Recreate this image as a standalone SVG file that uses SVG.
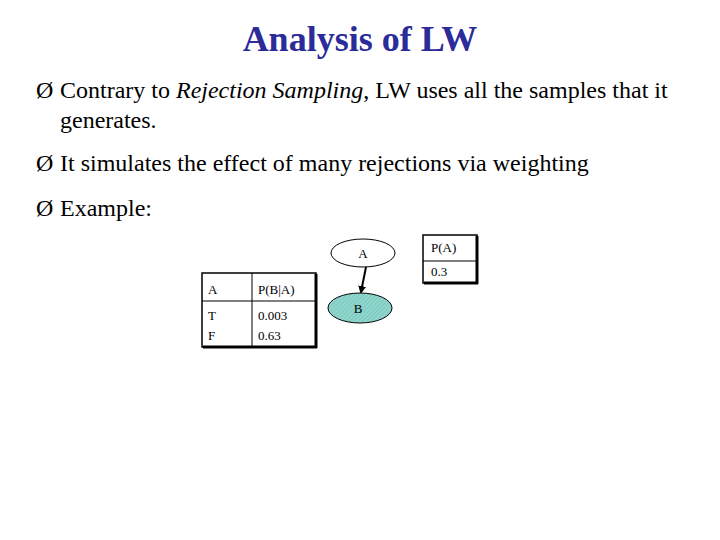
<svg xmlns="http://www.w3.org/2000/svg" width="720" height="540" viewBox="0 0 720 540">
<defs>
<pattern id="hatch" width="3" height="3" patternUnits="userSpaceOnUse" patternTransform="rotate(45)">
<rect width="3" height="3" fill="#8fd6cc"/><line x1="0" y1="0" x2="0" y2="3" stroke="#6bbdb2" stroke-width="1"/>
</pattern>
<marker id="arr" markerWidth="8" markerHeight="8" refX="6" refY="4" orient="auto" markerUnits="userSpaceOnUse"><path d="M0,0 L8,4 L0,8 z" fill="#000"/></marker>
</defs>
<style>
.t{font-family:"Liberation Serif",serif;fill:#000}
.s{font-family:"Liberation Serif",serif;font-size:13px;fill:#000}
</style>
<rect width="720" height="540" fill="#fff"/>
<text x="360" y="51" text-anchor="middle" font-family="Liberation Serif,serif" font-size="36" font-weight="bold" fill="#2b2b9a">Analysis of LW</text>
<g class="t" font-size="24">
<text x="36" y="98">Ø</text><text x="60" y="98">Contrary to <tspan font-style="italic">Rejection Sampling</tspan>, LW uses all the samples that it</text>
<text x="60" y="128">generates.</text>
<text x="36" y="171">Ø</text><text x="60" y="171">It simulates the effect of many rejections via weighting</text>
<text x="36" y="216">Ø</text><text x="60" y="216">Example:</text>
</g>
<g id="connectors"><line x1="366" y1="267" x2="361" y2="292" stroke="#000" stroke-width="2" marker-end="url(#arr)"/></g>
<g id="nodeA"><ellipse cx="363" cy="253" rx="32" ry="14" fill="#fff" stroke="#000"/><text class="s" x="363" y="258" text-anchor="middle">A</text></g>
<g id="nodeB"><ellipse cx="360" cy="308" rx="32" ry="15" fill="url(#hatch)" stroke="#000"/><text class="s" x="358" y="313" text-anchor="middle">B</text></g>
<g id="tableA">
<rect x="423" y="235" width="54" height="48" fill="#fff" stroke="#000" stroke-width="1.5"/>
<line x1="477" y1="236" x2="477" y2="284" stroke="#000" stroke-width="3"/><line x1="424" y1="283" x2="478" y2="283" stroke="#000" stroke-width="3"/>
<line x1="423" y1="261" x2="477" y2="261" stroke="#000"/>
<text class="s" x="431" y="252">P(A)</text><text class="s" x="431" y="276">0.3</text>
</g>
<g id="tableB">
<rect x="202" y="273" width="114" height="74" fill="#fff" stroke="#000" stroke-width="1.5"/>
<line x1="316" y1="274" x2="316" y2="348" stroke="#000" stroke-width="3"/><line x1="203" y1="347" x2="317" y2="347" stroke="#000" stroke-width="3"/>
<line x1="202" y1="301" x2="316" y2="301" stroke="#000"/><line x1="252" y1="273" x2="252" y2="347" stroke="#000"/>
<text class="s" x="208" y="294">A</text><text class="s" x="258" y="294">P(B|A)</text>
<text class="s" x="208" y="320">T</text><text class="s" x="258" y="320">0.003</text>
<text class="s" x="208" y="340">F</text><text class="s" x="258" y="340">0.63</text>
</g>
</svg>
